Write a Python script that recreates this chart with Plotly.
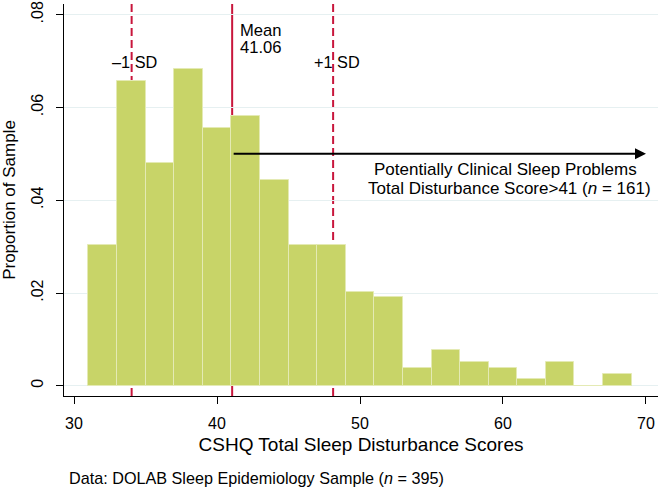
import plotly.graph_objects as go

# ---- data ----
bin_starts = [31, 33, 35, 37, 39, 41, 43, 45, 47, 49, 51, 53, 55, 57, 59, 61, 63, 65, 67]
bin_width = 2
proportion = [0.0304, 0.0657, 0.0480, 0.0682, 0.0556, 0.0581, 0.0443, 0.0304, 0.0304,
              0.0203, 0.0192, 0.0039, 0.0077, 0.0052, 0.0039, 0.0014, 0.0052, 0.0, 0.0025]

mean_score = 41.06
minus_sd = 34.03
plus_sd = 48.12
clinical_y = 0.05
clinical_end = 70

x_ticks = [30, 40, 50, 60, 70]
y_ticks = [0, 0.02, 0.04, 0.06, 0.08]
y_tick_labels = ["0", ".02", ".04", ".06", ".08"]

FONT = "Liberation Sans, Arial, Helvetica, sans-serif"
BAR = "#C8D468"
BAR_EDGE = "#E4EAB4"
RED = "#C8163C"

fig = go.Figure()
fig.add_trace(go.Bar(
    x=bin_starts, y=proportion, width=bin_width, offset=0,
    marker=dict(color=BAR, line=dict(color=BAR_EDGE, width=1)),
    hoverinfo="skip", showlegend=False,
))

# reference lines (below bars)
for xv, dash in [(minus_sd, "8px,4px"), (mean_score, "solid"), (plus_sd, "8px,4px")]:
    fig.add_shape(type="line", xref="x", yref="paper", x0=xv, x1=xv, y0=0, y1=1,
                  line=dict(color=RED, width=2, dash=dash), layer="below")

ann = []
ann.append(dict(x=34.2, y=0.0699, xref="x", yref="y", text="–1 SD", showarrow=False,
                xanchor="center", yanchor="middle", font=dict(size=16.3)))
ann.append(dict(x=48.39, y=0.0699, xref="x", yref="y", text="+1 SD", showarrow=False,
                xanchor="center", yanchor="middle", font=dict(size=16.3)))
ann.append(dict(x=41.5, y=0.0765, xref="x", yref="y", text="Mean", showarrow=False,
                xanchor="left", yanchor="middle", font=dict(size=16.6)))
ann.append(dict(x=41.5, y=0.0729, xref="x", yref="y", text=f"{mean_score:.2f}", showarrow=False,
                xanchor="left", yanchor="middle", font=dict(size=16.6)))
# arrow
ann.append(dict(x=clinical_end, y=clinical_y, ax=mean_score, ay=clinical_y,
                xref="x", yref="y", axref="x", ayref="y", text="", showarrow=True,
                arrowhead=2, arrowsize=1.1, arrowwidth=2, arrowcolor="black"))
ann.append(dict(x=60.2, y=0.0467, xref="x", yref="y",
                text="Potentially Clinical Sleep Problems",
                showarrow=False, xanchor="center", yanchor="middle", font=dict(size=17)))
ann.append(dict(x=60.45, y=0.0425, xref="x", yref="y",
                text="Total Disturbance Score>41 (<i>n</i> = 161)",
                showarrow=False, xanchor="center", yanchor="middle", font=dict(size=17)))
ann.append(dict(x=0.005, y=-0.209, xref="paper", yref="paper",
                text="Data: DOLAB Sleep Epidemiology Sample (<i>n</i> = 395)",
                showarrow=False, xanchor="left", yanchor="middle", font=dict(size=16.2)))

fig.update_layout(
    width=659, height=489,
    margin=dict(l=64, r=1, t=4, b=93),
    paper_bgcolor="white", plot_bgcolor="white",
    font=dict(family=FONT, color="black", size=16),
    bargap=0,
    annotations=ann,
    xaxis=dict(
        range=[29.3, 70.84], tickvals=x_ticks, ticks="outside", ticklen=7,
        tickcolor="black", tickwidth=1, showline=True, linecolor="black", linewidth=1.3,
        showgrid=False, zeroline=False, tickfont=dict(size=16), ticklabelstandoff=6,
        title=dict(text="CSHQ Total Sleep Disturbance Scores", font=dict(size=19), standoff=6),
    ),
    yaxis=dict(
        range=[-0.0022, 0.0823], tickvals=y_ticks, ticktext=y_tick_labels, tickangle=-90,
        ticks="outside", ticklen=7, tickcolor="black", tickwidth=1,
        showline=True, linecolor="black", linewidth=1.3,
        showgrid=True, gridcolor="#E6F0F1", gridwidth=1, zeroline=False,
        tickfont=dict(size=16), ticklabelstandoff=6,
        title=dict(text="Proportion of Sample", font=dict(size=17), standoff=12),
    ),
)

fig.write_html("out.html", config={"displayModeBar": False},
               post_script="document.body.style.margin='0';document.body.style.overflow='hidden';")
